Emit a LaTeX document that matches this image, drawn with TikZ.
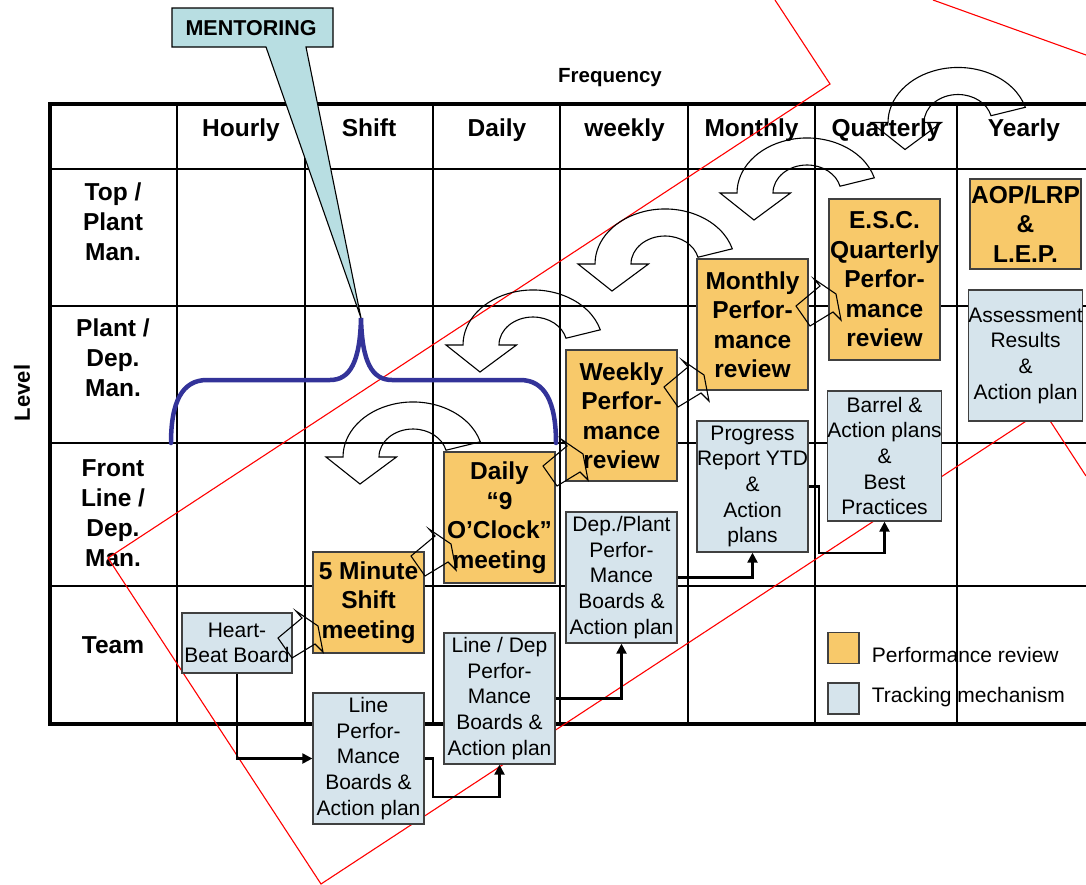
\documentclass[tikz,border=0pt]{standalone}
\usepackage{fontspec}
\setmainfont{Liberation Sans}
\usetikzlibrary{arrows.meta}

\definecolor{perf}{RGB}{248,201,106}
\definecolor{track}{RGB}{214,228,236}
\definecolor{mentor}{RGB}{184,222,226}
\definecolor{bracecol}{RGB}{51,51,153}
\definecolor{edgecol}{RGB}{64,64,64}

\tikzset{
 gridline/.style={line width=2pt},
 framepath/.style={line width=3.8pt, line join=miter},
 perfbox/.style={draw=edgecol, line width=1.3pt, fill=perf, inner sep=0pt, align=center, font=\fontsize{24.5}{29.5}\selectfont\bfseries},
 trackbox/.style={draw=edgecol, line width=1.3pt, fill=track, inner sep=0pt, align=center, font=\fontsize{21}{25.7}\selectfont},
 hdr/.style={anchor=base, font=\fontsize{24.5}{29.5}\selectfont\bfseries, inner sep=0pt},
 rowlab/.style={align=center, font=\fontsize{24.5}{30}\selectfont\bfseries, inner sep=0pt},
 legtext/.style={anchor=base west, inner sep=0pt, font=\fontsize{21}{25}\selectfont},
 legsq/.style={draw=edgecol, line width=1.3pt, minimum width=31pt, minimum height=31pt, inner sep=0pt},
 conn/.style={line width=2.2pt, -{Triangle[length=10pt,width=10pt]}},
 curvearrow/.style={draw=black, line width=1.1pt, line join=miter},
 zigline/.style={draw=black, line width=1.1pt, line join=miter},
 redline/.style={draw=red, line width=1.1pt},
 curv/.pic={
   \draw[curvearrow] (67.3,39.8) arc[start angle=-16, end angle=-180, x radius=70, y radius=55]
     -- (-87,55) -- (-53,82) -- (-16.5,55) -- (-34,55)
     arc[start angle=180, end angle=346, x radius=34, y radius=28] -- cycle;
 },
 zigzag/.pic={
   \draw[zigline] (0,0) -- (24,-20) -- (18,-27) -- (40,-12) -- (45,14) -- (37,6) -- (14,20) -- cycle;
 }
}

\begin{document}
\begin{tikzpicture}[x=1pt, y=-1pt]
\clip (0,0) rectangle (1086,884);
\fill[white] (0,0) rectangle (1086,884);

% table grid
\foreach \yy in {169,306,443,586} \draw[gridline] (50,\yy) -- (1095,\yy);
\foreach \xx in {177,305,433,560,688,815,957} \draw[gridline] (\xx,104) -- (\xx,724);
\draw[framepath] (1095,104) -- (50,104) -- (50,724) -- (1095,724);

% titles
\node[anchor=base, inner sep=0pt, font=\fontsize{20.5}{25}\selectfont\bfseries] (freq) at (610,82.5) {Frequency};
\node[rotate=90, inner sep=0pt, font=\fontsize{22}{26}\selectfont\bfseries] (level) at (22,393) {Level};

% column headers
\node[hdr] (hHourly) at (241,136) {Hourly};
\node[hdr] (hShift) at (369,136) {Shift};
\node[hdr] (hDaily) at (497,136) {Daily};
\node[hdr] (hWeekly) at (624.5,136) {weekly};
\node[hdr] (hMonthly) at (751.5,136) {Monthly};
\node[hdr] (hQuarterly) at (886,136) {Quarterly};
\node[hdr] (hYearly) at (1024,136) {Yearly};

% row headers
\node[rowlab] (rTop) at (113,222) {Top /\\Plant\\Man.};
\node[rowlab] (rPlant) at (113,358) {Plant /\\Dep.\\Man.};
\node[rowlab] (rFront) at (113,513) {Front\\Line /\\Dep.\\Man.};
\node[rowlab] (rTeam) at (113,645) {Team};

% red annotation lines
\draw[redline] (775,0) -- (830,84) -- (108,558) -- (321,884) -- (1043,410) -- (1086,476);
\draw[redline] (933,0) -- (1086,55);

% mentoring brace
\draw[bracecol, line width=4.5pt, line cap=round] (171,443) .. controls (171,402) and (182,380) .. (207,380)
  -- (330,380) .. controls (350,380) and (360,362) .. (361,318)
  .. controls (362,362) and (372,380) .. (392,380) -- (520,380)
  .. controls (545,380) and (556,402) .. (556,443);

% curved arrows
\pic at (958,67.5) {curv};
\pic at (807,138) {curv};
\pic at (665,209) {curv};
\pic at (533,290) {curv};
\pic at (413,402) {curv};

% mentoring callout
\draw[fill=mentor, line width=1.1pt, line join=miter] (172,8) -- (333,8) -- (333,47) -- (306,47) -- (361,318) -- (266,47) -- (172,47) -- cycle;
\node[anchor=base, inner sep=0pt, font=\fontsize{21.5}{25}\selectfont\bfseries] (ment) at (251,35) {MENTORING};

% tracking boxes
\node[trackbox, minimum width=110pt, minimum height=60pt] (hb) at (237,643) {Heart-\\Beat Board};
\node[trackbox, minimum width=111pt, minimum height=131pt] (lp) at (368.5,758.5) {Line\\Perfor-\\Mance\\Boards \&\\Action plan};
\node[trackbox, minimum width=111pt, minimum height=131pt] (ld) at (499.5,698.5) {Line / Dep\\Perfor-\\Mance\\Boards \&\\Action plan};
\node[trackbox, minimum width=111pt, minimum height=131pt] (dp) at (621.5,577.5) {Dep./Plant\\Perfor-\\Mance\\Boards \&\\Action plan};
\node[trackbox, minimum width=111pt, minimum height=131pt] (pr) at (752.5,486.5) {Progress\\Report YTD\\\&\\Action\\plans};
\node[trackbox, minimum width=111pt, minimum height=130pt] (br) at (884.5,456) {Barrel \&\\Action plans\\\&\\Best\\Practices};
\node[trackbox, minimum width=111pt, minimum height=131pt] (as) at (1025.5,355.5) {Assessment\\Results\\\&\\Action plan};

% performance boxes
\node[perfbox, minimum width=111pt, minimum height=101pt] (fm) at (368.5,602.5) {5 Minute\\Shift\\meeting};
\node[perfbox, minimum width=111pt, minimum height=131pt] (dl) at (499.5,517.5) {Daily\\“9\\O’Clock”\\meeting};
\node[perfbox, minimum width=111pt, minimum height=131pt] (wk) at (621.5,415.5) {Weekly\\Perfor-\\mance\\review};
\node[perfbox, minimum width=111pt, minimum height=131pt] (mo) at (752.5,324.5) {Monthly\\Perfor-\\mance\\review};
\node[perfbox, minimum width=111pt, minimum height=161pt] (esc) at (884.5,279.5) {E.S.C.\\Quarterly\\Perfor-\\mance\\review};
\node[perfbox, minimum width=111pt, minimum height=90pt] (aop) at (1025.5,224) {AOP/LRP\\\&\\L.E.P.};

% connectors
\coordinate (j1) at (433,797);
\coordinate (j2) at (818.6,553.3);
\draw[conn] (hb.south) |- (lp.west);
\draw[conn] (lp.east) -| (j1) -| (ld.south);
\draw[conn] (ld.east) -| (dp.south);
\draw[conn] (dp.east) -| (pr.south);
\draw[conn] (pr.east) -| (j2) -| (br.south);

% zigzag arrows
\pic at (278,638) {zigzag};
\pic at (411,556) {zigzag};
\pic at (543,466) {zigzag};
\pic at (664,387) {zigzag};
\pic at (796,306) {zigzag};

% legend
\node[legsq, fill=perf] (lg1) at (843.5,648) {};
\node[legsq, fill=track] (lg2) at (843.5,698.5) {};
\node[legtext] (lt1) at (871.7,662) {Performance review};
\node[legtext] (lt2) at (871.7,702.5) {Tracking mechanism};
\end{tikzpicture}
\end{document}
